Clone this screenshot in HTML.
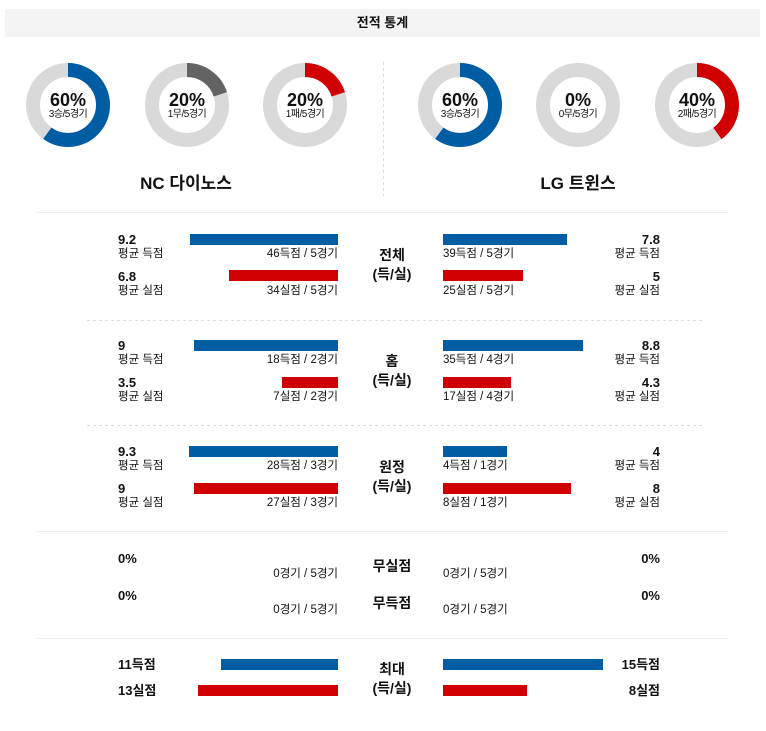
<!DOCTYPE html>
<html><head><meta charset="utf-8"><style>
body{margin:0;width:766px;height:731px;background:#fff;position:relative;font-family:"Liberation Sans","Noto Sans CJK KR",sans-serif;color:#111;overflow:hidden}
.a{position:absolute;white-space:nowrap}
.b{font-weight:bold;font-size:13px;line-height:15px}
.s{font-size:11.5px;line-height:14px;letter-spacing:0}
.r{text-align:right}
.bar{position:absolute;height:11px}
.bl{background:#005ca3}.rd{background:#d10000}
.c{text-align:center;width:60px;left:362px;font-size:14px;font-weight:bold;line-height:19px}
.dn{position:absolute;width:90px;text-align:center}
.dn .p{font-size:18px;font-weight:bold;line-height:18px}
.dn .q{font-size:10px;line-height:11px;letter-spacing:-0.5px}
</style></head><body>
<div class="a" style="left:5px;top:9px;width:755px;height:28px;background:#f4f4f4;text-align:center;font-size:13px;font-weight:bold;line-height:28px">전적 통계</div>

<svg class="a" style="left:0;top:0" width="766" height="731">
<g fill="none" stroke-width="14">
<circle cx="68" cy="105" r="35" stroke="#d9d9d9"/>
<circle cx="68" cy="105" r="35" stroke="#005ca3" stroke-dasharray="131.9 220" transform="rotate(-90 68 105)"/>
<circle cx="187" cy="105" r="35" stroke="#d9d9d9"/>
<circle cx="187" cy="105" r="35" stroke="#636363" stroke-dasharray="44 220" transform="rotate(-90 187 105)"/>
<circle cx="305" cy="105" r="35" stroke="#d9d9d9"/>
<circle cx="305" cy="105" r="35" stroke="#d10000" stroke-dasharray="44 220" transform="rotate(-90 305 105)"/>
<circle cx="460" cy="105" r="35" stroke="#d9d9d9"/>
<circle cx="460" cy="105" r="35" stroke="#005ca3" stroke-dasharray="131.9 220" transform="rotate(-90 460 105)"/>
<circle cx="578" cy="105" r="35" stroke="#d9d9d9"/>
<circle cx="697" cy="105" r="35" stroke="#d9d9d9"/>
<circle cx="697" cy="105" r="35" stroke="#d10000" stroke-dasharray="88 220" transform="rotate(-90 697 105)"/>
</g>
<line x1="383.5" y1="62" x2="383.5" y2="196" stroke="#ddd" stroke-dasharray="3 3"/>
<line x1="37" y1="212.5" x2="728" y2="212.5" stroke="#eee"/>
<line x1="87" y1="320.5" x2="703" y2="320.5" stroke="#ddd" stroke-dasharray="3 3"/>
<line x1="87" y1="425.5" x2="703" y2="425.5" stroke="#ddd" stroke-dasharray="3 3"/>
<line x1="37" y1="531.5" x2="728" y2="531.5" stroke="#eee"/>
<line x1="37" y1="638.5" x2="728" y2="638.5" stroke="#eee"/>
</svg>

<div class="dn" style="left:23px;top:91px"><div class="p">60%</div><div class="q">3승/5경기</div></div>
<div class="dn" style="left:142px;top:91px"><div class="p">20%</div><div class="q">1무/5경기</div></div>
<div class="dn" style="left:260px;top:91px"><div class="p">20%</div><div class="q">1패/5경기</div></div>
<div class="dn" style="left:415px;top:91px"><div class="p">60%</div><div class="q">3승/5경기</div></div>
<div class="dn" style="left:533px;top:91px"><div class="p">0%</div><div class="q">0무/5경기</div></div>
<div class="dn" style="left:652px;top:91px"><div class="p">40%</div><div class="q">2패/5경기</div></div>

<div class="a" style="left:86px;width:200px;text-align:center;top:174px;font-size:17px;font-weight:bold;line-height:20px">NC 다이노스</div>
<div class="a" style="left:478px;width:200px;text-align:center;top:174px;font-size:17px;font-weight:bold;line-height:20px">LG 트윈스</div>

<!-- row1 -->
<div class="a b" style="left:118px;top:232px">9.2</div>
<div class="a s" style="left:118px;top:247px">평균 득점</div>
<div class="a b" style="left:118px;top:269px">6.8</div>
<div class="a s" style="left:118px;top:284px">평균 실점</div>
<div class="bar bl" style="left:190px;width:148px;top:234px"></div>
<div class="bar rd" style="left:229px;width:109px;top:270px"></div>
<div class="a s r" style="right:428px;top:247px">46득점 / 5경기</div>
<div class="a s r" style="right:428px;top:284px">34실점 / 5경기</div>
<div class="a c" style="top:246px">전체<br>(득/실)</div>
<div class="bar bl" style="left:443px;width:124px;top:234px"></div>
<div class="bar rd" style="left:443px;width:80px;top:270px"></div>
<div class="a s" style="left:443px;top:247px">39득점 / 5경기</div>
<div class="a s" style="left:443px;top:284px">25실점 / 5경기</div>
<div class="a b r" style="right:106px;top:232px">7.8</div>
<div class="a s r" style="right:106px;top:247px">평균 득점</div>
<div class="a b r" style="right:106px;top:269px">5</div>
<div class="a s r" style="right:106px;top:284px">평균 실점</div>

<!-- row2 -->
<div class="a b" style="left:118px;top:338px">9</div>
<div class="a s" style="left:118px;top:353px">평균 득점</div>
<div class="a b" style="left:118px;top:375px">3.5</div>
<div class="a s" style="left:118px;top:390px">평균 실점</div>
<div class="bar bl" style="left:194px;width:144px;top:340px"></div>
<div class="bar rd" style="left:282px;width:56px;top:377px"></div>
<div class="a s r" style="right:428px;top:353px">18득점 / 2경기</div>
<div class="a s r" style="right:428px;top:390px">7실점 / 2경기</div>
<div class="a c" style="top:352px">홈<br>(득/실)</div>
<div class="bar bl" style="left:443px;width:140px;top:340px"></div>
<div class="bar rd" style="left:443px;width:68px;top:377px"></div>
<div class="a s" style="left:443px;top:353px">35득점 / 4경기</div>
<div class="a s" style="left:443px;top:390px">17실점 / 4경기</div>
<div class="a b r" style="right:106px;top:338px">8.8</div>
<div class="a s r" style="right:106px;top:353px">평균 득점</div>
<div class="a b r" style="right:106px;top:375px">4.3</div>
<div class="a s r" style="right:106px;top:390px">평균 실점</div>

<!-- row3 -->
<div class="a b" style="left:118px;top:444px">9.3</div>
<div class="a s" style="left:118px;top:459px">평균 득점</div>
<div class="a b" style="left:118px;top:481px">9</div>
<div class="a s" style="left:118px;top:496px">평균 실점</div>
<div class="bar bl" style="left:189px;width:149px;top:446px"></div>
<div class="bar rd" style="left:194px;width:144px;top:483px"></div>
<div class="a s r" style="right:428px;top:459px">28득점 / 3경기</div>
<div class="a s r" style="right:428px;top:496px">27실점 / 3경기</div>
<div class="a c" style="top:458px">원정<br>(득/실)</div>
<div class="bar bl" style="left:443px;width:64px;top:446px"></div>
<div class="bar rd" style="left:443px;width:128px;top:483px"></div>
<div class="a s" style="left:443px;top:459px">4득점 / 1경기</div>
<div class="a s" style="left:443px;top:496px">8실점 / 1경기</div>
<div class="a b r" style="right:106px;top:444px">4</div>
<div class="a s r" style="right:106px;top:459px">평균 득점</div>
<div class="a b r" style="right:106px;top:481px">8</div>
<div class="a s r" style="right:106px;top:496px">평균 실점</div>

<!-- row4 -->
<div class="a b" style="left:118px;top:551px">0%</div>
<div class="a b" style="left:118px;top:588px">0%</div>
<div class="a s r" style="right:428px;top:567px">0경기 / 5경기</div>
<div class="a s r" style="right:428px;top:603px">0경기 / 5경기</div>
<div class="a c" style="top:557px">무실점</div>
<div class="a c" style="top:594px">무득점</div>
<div class="a s" style="left:443px;top:567px">0경기 / 5경기</div>
<div class="a s" style="left:443px;top:603px">0경기 / 5경기</div>
<div class="a b r" style="right:106px;top:551px">0%</div>
<div class="a b r" style="right:106px;top:588px">0%</div>

<!-- row5 -->
<div class="a b" style="left:118px;top:657px">11득점</div>
<div class="a b" style="left:118px;top:683px">13실점</div>
<div class="bar bl" style="left:221px;width:117px;top:659px"></div>
<div class="bar rd" style="left:198px;width:140px;top:685px"></div>
<div class="a c" style="top:660px">최대<br>(득/실)</div>
<div class="bar bl" style="left:443px;width:160px;top:659px"></div>
<div class="bar rd" style="left:443px;width:84px;top:685px"></div>
<div class="a b r" style="right:106px;top:657px">15득점</div>
<div class="a b r" style="right:106px;top:683px">8실점</div>
</body></html>
